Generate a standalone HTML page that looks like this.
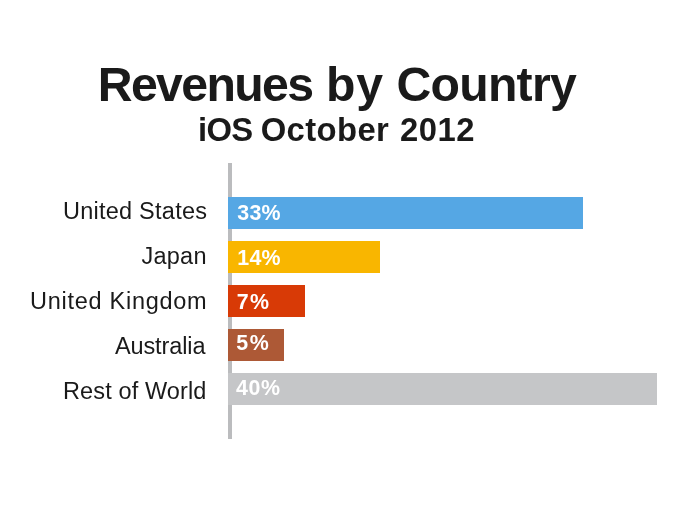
<!DOCTYPE html>
<html>
<head>
<meta charset="utf-8">
<title>Revenues by Country</title>
<style>
html,body{margin:0;padding:0;background:#fff;}
body{width:675px;height:506px;position:relative;overflow:hidden;font-family:"Liberation Sans",sans-serif;color:#1a1a1a;}
.t{position:absolute;white-space:nowrap;line-height:1;}
#title{left:98.5px;top:60px;font-size:48.2px;font-weight:bold;letter-spacing:-0.9px;}
#sub{left:197px;top:114px;font-size:32.8px;font-weight:bold;letter-spacing:0.39px;}
.w{position:absolute;top:0;}
.lab{right:468px;font-size:23.5px;text-align:right;}
.axis{position:absolute;left:228px;top:163px;width:4px;height:275.8px;background:#bbbcbe;}
.bar{position:absolute;left:228px;height:31.6px;}
.pct{position:absolute;left:9.2px;top:7px;letter-spacing:0.3px;font-size:21.4px;font-weight:bold;color:#fff;line-height:1;white-space:nowrap;}
</style>
</head>
<body>
<div class="t" id="title"><span class="w" style="left:-0.7px;letter-spacing:-1.65px">Revenues</span> <span class="w" style="left:227.4px;letter-spacing:1px">by</span> <span class="w" style="left:298px;letter-spacing:-0.75px">Country</span></div>
<div class="t" id="sub"><span class="w" style="left:1px;letter-spacing:-0.7px">iOS</span> <span class="w" style="left:63.7px">October</span> <span class="w" style="left:203px;letter-spacing:0.55px">2012</span></div>
<div class="axis"></div>

<div class="t lab" style="top:199.5px;letter-spacing:0.25px;margin-right:-0.25px">United States</div>
<div class="t lab" style="top:245.3px;letter-spacing:0.25px;margin-right:0.3px">Japan</div>
<div class="t lab" style="top:290.1px;letter-spacing:0.72px;margin-right:-0.4px">United Kingdom</div>
<div class="t lab" style="top:334.5px;letter-spacing:-0.1px;margin-right:1.6px">Australia</div>
<div class="t lab" style="top:379.6px;letter-spacing:0.12px;margin-right:0.5px">Rest of World</div>

<div class="bar" style="top:197px;width:354.8px;background:#55a7e4"><span class="pct" style="top:6px">33%</span></div>
<div class="bar" style="top:241px;width:152px;background:#f9b600"><span class="pct">14%</span></div>
<div class="bar" style="top:285px;width:77px;background:#d83a06"><span class="pct" style="letter-spacing:1.4px;left:8.8px">7%</span></div>
<div class="bar" style="top:329px;width:55.9px;background:#ad5936"><span class="pct" style="top:4px;left:8.2px;letter-spacing:1.6px">5%</span></div>
<div class="bar" style="top:373px;width:428.8px;background:#c5c6c8"><span class="pct" style="top:5px;left:8.1px;letter-spacing:0.5px">40%</span></div>
</body>
</html>
